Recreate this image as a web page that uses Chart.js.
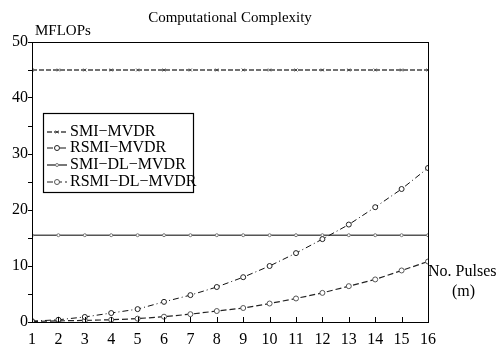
<!DOCTYPE html>
<html>
<head>
<meta charset="utf-8">
<script src="https://cdn.jsdelivr.net/npm/chart.js@4"></script>
<style>
  html, body { margin: 0; padding: 0; background: #fff; }
  #wrap { width: 496px; height: 344px; }
</style>
</head>
<body>
<div id="wrap"><canvas id="chart" width="496" height="344"></canvas></div>
<script>
// values
const pulses = [1, 2, 3, 4, 5, 6, 7, 8, 9, 10, 11, 12, 13, 14, 15, 16];
const smiMvdr = [45, 45, 45, 45, 45, 45, 45, 45, 45, 45, 45, 45, 45, 45, 45, 45];
const rsmiMvdr = [0.15, 0.4, 0.9, 1.6, 2.3, 3.6, 4.8, 6.25, 8.0, 10.0, 12.3, 14.8, 17.4, 20.5, 23.75, 27.5];
const smiDlMvdr = [15.5, 15.5, 15.5, 15.5, 15.5, 15.5, 15.5, 15.5, 15.5, 15.5, 15.5, 15.5, 15.5, 15.5, 15.5, 15.5];
const rsmiDlMvdr = [0.1, 0.2, 0.28, 0.4, 0.6, 0.95, 1.4, 1.96, 2.5, 3.3, 4.2, 5.2, 6.4, 7.6, 9.2, 10.8];
const yTicks = [0, 10, 20, 30, 40, 50];

const serif = '"Liberation Serif", "DejaVu Serif", serif';

function pts(vals) {
  return pulses.map((m, i) => ({ x: m, y: vals[i] }));
}

const datasets = [
  { label: "SMI\u2212MVDR", data: pts(smiMvdr), borderColor: "#444", borderWidth: 1.3,
    borderDash: [5, 2], pointStyle: "crossRot", pointRadius: 2, pointBorderColor: "#444" },
  { label: "RSMI\u2212MVDR", data: pts(rsmiMvdr), borderColor: "#111", borderWidth: 1,
    borderDash: [6, 3, 1, 3], pointStyle: "circle", pointRadius: 2.5, pointBorderColor: "#222" },
  { label: "SMI\u2212DL\u2212MVDR", data: pts(smiDlMvdr), borderColor: "#555", borderWidth: 1.6,
    borderDash: [], pointStyle: "circle", pointRadius: 1.5, pointBorderColor: "#777" },
  { label: "RSMI\u2212DL\u2212MVDR", data: pts(rsmiDlMvdr), borderColor: "#222", borderWidth: 1.2,
    borderDash: [6, 3], pointStyle: "circle", pointRadius: 2.5, pointBorderColor: "#555" }
];
datasets.forEach(d => {
  d.pointBackgroundColor = "#fff";
  d.pointBorderWidth = 1;
  d.tension = 0;
  d.fill = false;
});

// frame, inward x ticks, texts and the boxed legend
const decor = {
  id: "decor",
  afterDraw(chart) {
    const ctx = chart.ctx;
    const a = chart.chartArea;
    const xs = chart.scales.x;
    ctx.save();
    ctx.strokeStyle = "#000";
    ctx.lineWidth = 1;
    ctx.setLineDash([]);
    ctx.strokeRect(a.left + 0.5, a.top + 0.5, a.right - a.left, a.bottom - a.top);
    ctx.beginPath();
    pulses.forEach(m => {
      const px = Math.round(xs.getPixelForValue(m)) + 0.5;
      ctx.moveTo(px, a.bottom);
      ctx.lineTo(px, a.bottom - 5);
    });
    ctx.stroke();

    ctx.fillStyle = "#000";
    ctx.font = "15px " + serif;
    ctx.textAlign = "center";
    ctx.textBaseline = "middle";
    ctx.fillText("Computational Complexity", (a.left + a.right) / 2, 18);
    ctx.textAlign = "left";
    ctx.fillText("MFLOPs", 35, 31);
    ctx.font = "16px " + serif;
    ctx.fillText("No. Pulses", a.right, 272);
    ctx.fillText("(m)", 452, 292);

    // legend
    const lx = 43, ly = 113, lw = 150, lh = 79;
    ctx.lineWidth = 1.2;
    ctx.strokeRect(lx + 0.5, ly + 0.5, lw, lh);
    const rows = [132, 148, 165, 182];
    chart.data.datasets.forEach((d, i) => {
      const y = rows[i];
      ctx.strokeStyle = d.borderColor;
      ctx.lineWidth = d.borderWidth;
      ctx.setLineDash(d.borderDash);
      ctx.beginPath();
      ctx.moveTo(47, y);
      ctx.lineTo(67, y);
      ctx.stroke();
      ctx.setLineDash([]);
      ctx.lineWidth = 1;
      ctx.strokeStyle = d.pointBorderColor;
      ctx.fillStyle = "#fff";
      Chart.helpers.drawPoint(ctx, { pointStyle: d.pointStyle, radius: d.pointRadius, rotation: 0, borderWidth: 1 }, 57, y);
      ctx.fillStyle = "#000";
      ctx.font = "16px " + serif;
      ctx.textAlign = "left";
      ctx.fillText(d.label, 70, y);
    });
    ctx.restore();
  }
};

new Chart(document.getElementById("chart"), {
  type: "line",
  data: { datasets: datasets },
  options: {
    responsive: false,
    animation: false,
    layout: { padding: { top: 42, right: 68, left: 0, bottom: 0 } },
    plugins: { legend: { display: false }, tooltip: { enabled: false } },
    scales: {
      x: {
        type: "linear", min: 1, max: 16,
        afterFit(s) { s.height = 22; },
        border: { display: true, color: "#000", width: 1 },
        grid: { display: false, drawTicks: false },
        ticks: {
          stepSize: 1, padding: 8, color: "#000", maxRotation: 0, autoSkip: false,
          font: { family: serif, size: 16 }
        }
      },
      y: {
        type: "linear", min: 0, max: 50,
        afterFit(s) { s.width = 32; },
        border: { display: true, color: "#000", width: 1 },
        grid: { drawOnChartArea: false, drawTicks: true, tickLength: 4, color: "#000" },
        ticks: {
          stepSize: 5, padding: 0, color: "#000",
          font: { family: serif, size: 16 },
          callback: v => (yTicks.includes(v) ? String(v) : "")
        }
      }
    }
  },
  plugins: [decor]
});
</script>
</body>
</html>
